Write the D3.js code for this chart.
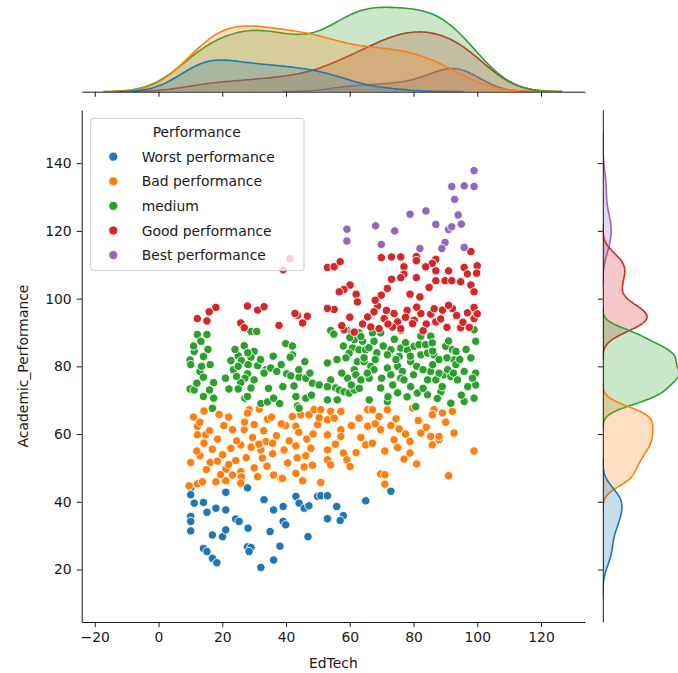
<!DOCTYPE html>
<html>
<head>
<meta charset="utf-8">
<script src="https://cdn.jsdelivr.net/npm/d3@7"></script>
<style>
  body { margin: 0; background: #fff; }
  text { font-family: "DejaVu Sans", sans-serif; font-size: 13.9px; fill: #1a1a1a; }
  .axis path, .axis line { stroke: #1a1a1a; stroke-width: 1; }
</style>
</head>
<body>
<div id="chart"></div>
<script>
// categories + colours (seaborn default palette)
const categories = ["Worst performance", "Bad performance", "medium", "Good performance", "Best performance"];
const colors = ["#1f77b4", "#ff7f0e", "#2ca02c", "#d62728", "#9467bd"];

// [EdTech, Academic_Performance]
// (dense clusters hold overlapping dots; the marginal kdes show how many)
const worstPts = [[10.1,44.1],[10.1,42.1],[11.2,39.6],[14.1,39.8],[15.2,36.9],[18.0,38.1],[21.1,42.8],[21.1,37.6],[27.9,44.1],[33.1,40.6],
  [36.1,37.6],[39.1,38.6],[43.1,41.6],[44.1,39.6],[45.7,38.1],[47.2,38.8],[49.9,41.6],[10.1,35.7],[10.1,34.2],[10.1,31.4],
  [16.9,30.2],[20.1,29.7],[21.1,31.7],[24.2,34.9],[25.3,34.2],[28.1,32.2],[35.0,31.2],[39.1,34.2],[39.9,33.2],[46.9,29.7],
  [14.1,26.2],[15.2,25.3],[16.9,23.3],[18.3,22.0],[27.9,26.7],[29.0,26.5],[28.4,25.3],[38.1,26.9],[36.1,22.8],[32.1,20.6],
  [50.9,41.8],[53.0,41.8],[55.9,38.6],[58.0,35.9],[57.0,34.5],[53.0,35.0],[65.0,40.3],[72.9,43.1]];

const badPts = [[14.3,66.8],[19.0,65.8],[12.2,62.3],[14.8,59.8],[12.2,59.8],[23.2,61.3],[26.9,61.3],[30.0,62.8],[28.4,67.2],[31.6,67.4],
  [27.9,66.2],[34.2,64.4],[39.9,62.5],[42.0,65.2],[43.1,62.3],[44.6,65.7],[47.2,65.7],[48.8,67.2],[49.9,62.8],[50.4,64.8],
  [14.3,57.3],[16.9,55.5],[22.7,55.8],[25.8,56.8],[29.0,56.1],[32.1,55.3],[33.7,57.8],[35.8,57.3],[35.8,54.2],[39.4,55.3],
  [43.1,56.5],[47.8,55.8],[10.1,51.6],[13.0,53.6],[16.2,51.6],[20.1,53.9],[24.2,52.2],[21.1,49.6],[23.2,47.9],[25.8,48.9],
  [26.0,47.4],[31.1,47.4],[36.1,47.9],[38.4,46.9],[43.1,48.4],[45.7,50.3],[48.3,50.8],[46.2,53.6],[45.2,46.2],[9.6,44.7],
  [12.2,45.3],[13.8,45.9],[18.0,45.9],[21.1,46.2],[25.8,45.5],[32.6,52.9],[38.9,46.9],
  [53.0,55.3],[53.0,52.4],[54.0,50.9],[58.0,54.4],[59.1,52.4],[60.1,50.4],[65.0,56.8],[67.1,57.3],[71.0,55.0],[73.9,58.3],
  [78.9,57.8],[78.9,54.4],[77.0,52.6],[81.0,51.2],[85.9,56.8],[88.0,58.3],[99.0,55.0],[69.7,48.2],[71.0,48.0],[71.0,45.2],
  [91.0,47.7],[50.9,45.7],
  [50.9,67.2],[54.0,66.7],[57.2,66.7],[53.0,64.2],[55.1,64.7],[57.2,61.3],[62.9,64.7],[65.6,67.2],[67.1,67.2],[69.2,65.2],
  [71.8,67.2],[79.7,67.7],[86.4,67.2],[85.9,65.7],[89.1,66.2],[92.2,66.7],[90.1,63.5],[69.7,61.3],[72.9,62.5],[75.5,61.5],
  [65.6,62.3],[82.3,60.3],[85.4,59.3],[88.0,59.3],[92.7,60.3],[57.2,59.3],[53.0,59.8],
  [11.0,65.0],[13.0,63.5],[16.0,61.0],[18.5,58.5],[20.5,62.5],[22.0,65.0],[24.5,58.0],[27.0,63.5],[29.5,59.0],[31.5,57.0],
  [33.0,61.0],[35.5,65.0],[37.0,59.5],[38.5,63.0],[41.0,58.0],[44.0,60.5],[46.5,58.5],[48.5,60.0],[12.0,55.0],[15.0,49.5],
  [18.5,52.0],[22.0,51.0],[27.5,53.0],[30.0,50.0],[34.0,50.5],[40.5,51.5],[43.5,53.0],[19.5,48.0],
  [55.5,57.0],[60.5,62.5],[63.5,59.0],[68.0,63.0],[74.5,64.5],[77.5,60.0],[81.5,64.0],[84.0,62.0],[62.0,54.5],[75.0,56.0]];

const mediumPts = [[12.2,89.4],[15.2,89.4],[13.3,87.4],[11.2,84.4],[14.1,82.9],[9.9,81.9],[10.1,80.5],[16.2,80.5],[13.0,78.5],[14.1,76.8],
  [17.3,75.2],[9.9,73.3],[11.2,73.0],[14.1,71.1],[17.3,70.6],[16.9,67.6],
  [26.9,86.1],[30.0,84.4],[25.0,83.1],[22.7,81.7],[26.0,81.7],[29.0,82.7],[23.5,79.0],[25.0,80.0],[28.1,80.5],[31.1,80.2],
  [27.9,77.8],[27.1,76.5],[25.8,75.2],[25.0,73.3],[22.1,73.3],[29.0,73.6],[27.1,70.6],[27.9,71.1],[29.0,90.3],[30.8,90.3],
  [33.7,79.0],[33.1,78.0],[35.2,79.5],[37.1,78.5],[32.1,69.0],[34.2,69.5],[36.1,70.6],[39.9,86.7],[42.0,83.4],[41.3,82.7],
  [45.9,81.4],[40.2,77.8],[41.5,77.2],[44.1,76.8],[46.2,76.5],[48.3,75.0],[50.4,74.5],[42.5,74.2],[43.1,71.1],[46.2,70.6],
  [43.6,68.3],[44.1,67.6],
  [54.0,90.6],[59.3,90.6],[60.5,89.9],[62.9,89.9],[67.1,89.9],[69.7,89.9],[76.0,90.6],[82.3,88.9],[85.4,88.9],[99.0,90.8],
  [99.5,87.4],[61.4,87.9],[64.0,87.4],[67.6,87.4],[60.9,85.4],[62.9,84.9],[65.0,84.9],[59.8,83.9],[58.8,82.5],[72.9,84.9],
  [76.0,85.4],[78.1,84.9],[80.2,85.9],[81.7,86.4],[83.8,86.4],[85.9,86.9],[82.3,83.4],[84.4,83.9],[86.4,83.4],[90.1,85.9],
  [92.2,84.9],[93.3,84.4],[71.8,83.4],[75.5,82.9],[79.1,81.4],[53.0,81.0],[62.4,81.4],[64.5,81.4],[66.6,80.0],[67.6,79.0],
  [61.4,79.0],[61.9,77.5],[59.3,76.5],[63.5,76.0],[66.1,76.5],[71.8,79.5],[72.9,77.5],[75.0,80.0],[76.5,78.5],[76.0,76.5],
  [77.0,76.0],[85.4,78.5],[84.4,76.0],[87.0,76.0],[89.6,77.5],[90.7,79.0],[91.7,77.0],[93.8,76.0],[95.9,78.5],[98.0,82.5],
  [99.5,78.0],[99.5,74.5],[92.7,81.9],[93.3,80.5],[54.0,76.0],[53.0,74.0],[55.6,73.6],[56.7,73.0],[58.2,72.5],[59.8,72.1],
  [61.4,73.0],[53.0,70.1],[56.1,70.1],[66.1,70.1],[69.7,73.6],[75.0,72.2],[79.1,74.0],[81.2,72.1],[84.4,71.6],[88.6,72.5],
  [71.8,69.6],[80.7,68.1],[91.7,69.1],[95.9,69.6],[99.0,70.6],
  [55.0,89.5],[60.0,88.5],[63.5,88.8],[66.0,85.5],[68.5,84.0],[70.5,86.0],[74.0,88.0],[77.5,87.0],[79.0,83.0],[81.0,80.0],
  [83.0,79.0],[86.0,80.5],[88.0,82.0],[89.0,74.0],[90.5,82.5],[92.5,78.0],[94.5,82.0],[96.5,85.0],[97.0,74.0],[98.5,76.5],
  [95.0,71.5],[87.5,70.5],[83.0,73.5],[78.0,71.0],[73.5,74.5],[70.0,76.5],[68.0,82.0],[65.5,78.0],[63.0,73.5],[60.5,74.5],
  [57.5,78.0],[56.0,82.0],[58.0,86.0],[64.5,82.5],[74.5,82.0],[86.0,84.5],[91.0,87.5],[80.0,77.5],[72.0,71.0],[88.0,78.0],
  [11.0,86.0],[13.5,80.0],[15.5,85.0],[12.0,75.0],[16.0,73.0],[24.0,85.0],[28.0,84.0],[24.5,77.0],[30.0,76.0],[32.0,82.0],
  [36.0,83.0],[38.5,80.5],[39.0,74.0],[44.0,79.0],[47.5,78.0],[42.0,86.0],[34.5,73.5],[21.0,76.5],[48.0,71.5],[38.0,69.0]];

const goodPts = [[53.0,109.2],[55.1,109.4],[57.0,110.9],[69.9,112.1],[73.1,112.3],[76.0,112.3],[80.9,112.4],[80.9,111.2],[87.0,111.6],[85.9,110.4],
  [77.0,109.4],[83.8,109.4],[87.0,108.2],[91.0,108.2],[95.9,109.2],[98.0,113.9],[100.0,109.7],[99.8,107.5],[96.9,107.3],[77.0,107.2],
  [76.0,106.2],[73.1,105.7],[80.9,106.2],[87.0,105.3],[89.9,105.3],[92.0,105.3],[94.8,105.0],[98.0,104.0],[84.9,103.3],[60.1,104.0],
  [58.2,102.7],[56.7,102.0],[62.0,101.3],[71.8,103.0],[69.9,101.0],[78.9,101.3],[82.0,100.5],[99.0,102.0],[41.3,111.8],[39.1,108.5],
  [55.1,96.8],[68.7,97.8],[67.6,96.1],[65.6,94.6],[70.8,94.1],[73.9,95.6],[75.0,93.1],[73.4,91.6],[66.6,91.6],[69.2,91.1],
  [76.0,91.1],[80.2,93.6],[82.3,95.6],[85.4,95.4],[87.0,93.1],[89.1,96.6],[92.2,97.1],[96.9,95.8],[99.0,97.4],[99.0,94.1],
  [94.8,91.4],[58.2,90.8],[61.4,90.1],[79.7,92.6],[62.4,99.0],[53.0,97.1],
  [18.0,97.4],[15.9,96.1],[12.2,94.1],[15.2,93.4],[27.9,97.8],[31.1,96.6],[33.1,97.6],[25.8,92.8],[26.9,91.4],[37.8,92.1],
  [43.6,95.1],[46.7,94.8],[45.2,92.8],[42.8,95.6],
  [78.0,96.5],[81.0,97.5],[84.0,92.5],[86.5,97.0],[88.5,94.0],[90.5,91.5],[93.5,95.0],[95.5,93.0],[97.5,91.5],[100.0,95.5],
  [91.0,98.0],[83.0,90.5],[77.5,94.5],[72.0,92.5],[71.5,96.5],[64.0,92.5],[60.0,94.5],[57.5,92.0],[68.0,99.5]];

const bestPts = [[99.0,137.8],[92.0,133.1],[95.9,133.3],[99.0,133.1],[92.9,129.3],[78.9,124.9],[83.9,125.9],[94.0,124.7],[87.0,121.9],[68.1,121.5],
  [74.1,120.0],[59.1,120.5],[91.0,120.4],[92.0,121.2],[95.0,122.0],[59.1,117.0],[69.9,116.0],[89.9,116.6],[82.0,114.8],[88.9,114.8],
  [95.9,115.1]];

const xTicks = [-20, 0, 20, 40, 60, 80, 100, 120];
const yTicks = [20, 40, 60, 80, 100, 120, 140];

const groups = [worstPts, badPts, mediumPts, goodPts, bestPts];

const width = 678, height = 673;
const box = { left: 81.7, right: 585, top: 110, bottom: 622 };
const topBase = 91.7, rightBase = 602.8;

const svg = d3.select("#chart").append("svg")
  .attr("width", width)
  .attr("height", height);

const x = d3.scaleLinear().domain([-24.1, 133.8]).range([box.left, box.right]);
const y = d3.scaleLinear().domain([4.5, 155.7]).range([box.bottom, box.top]);

// --- kde like seaborn (scott bandwidth, cut=3, common_norm) ---
const total = d3.sum(groups, g => g.length);
const kde = (vals) => {
  const n = vals.length;
  const bw = d3.deviation(vals) * Math.pow(n, -0.2);
  const lo = d3.min(vals) - 3 * bw, hi = d3.max(vals) + 3 * bw;
  const grid = d3.range(200).map(i => lo + (hi - lo) * i / 199);
  const c = 1 / (n * bw * Math.sqrt(2 * Math.PI));
  return grid.map(g => [g, (n / total) * c * d3.sum(vals, v => Math.exp(-0.5 * ((g - v) / bw) ** 2))]);
};

const kdeX = groups.map(g => kde(g.map(d => d[0])));
const kdeY = groups.map(g => kde(g.map(d => d[1])));

const topD = d3.scaleLinear()
  .domain([0, d3.max(kdeX, k => d3.max(k, d => d[1]))])
  .range([topBase, 7.3]);
const rightD = d3.scaleLinear()
  .domain([0, d3.max(kdeY, k => d3.max(k, d => d[1]))])
  .range([rightBase, 679]);

const defs = svg.append("defs");
defs.append("clipPath").attr("id", "clipTop")
  .append("rect").attr("x", box.left).attr("y", -10).attr("width", box.right - box.left).attr("height", topBase + 10);
defs.append("clipPath").attr("id", "clipRight")
  .append("rect").attr("x", rightBase).attr("y", box.top).attr("width", 100).attr("height", box.bottom - box.top);

// seaborn draws hue levels in reverse order
const order = d3.range(groups.length).reverse();

// top marginal
const topG = svg.append("g").attr("clip-path", "url(#clipTop)");
order.forEach(i => {
  const area = d3.area().x(d => x(d[0])).y0(topBase).y1(d => topD(d[1]));
  const line = d3.line().x(d => x(d[0])).y(d => topD(d[1]));
  topG.append("path").attr("d", area(kdeX[i])).attr("fill", colors[i]).attr("fill-opacity", 0.25);
  topG.append("path").attr("d", line(kdeX[i])).attr("fill", "none")
    .attr("stroke", colors[i]).attr("stroke-width", 1.6).attr("stroke-linejoin", "round");
});

// right marginal
const rightG = svg.append("g").attr("clip-path", "url(#clipRight)");
order.forEach(i => {
  const area = d3.area().y(d => y(d[0])).x0(rightBase).x1(d => rightD(d[1]));
  const line = d3.line().y(d => y(d[0])).x(d => rightD(d[1]));
  rightG.append("path").attr("d", area(kdeY[i])).attr("fill", colors[i]).attr("fill-opacity", 0.25);
  rightG.append("path").attr("d", line(kdeY[i])).attr("fill", "none")
    .attr("stroke", colors[i]).attr("stroke-width", 1.6).attr("stroke-linejoin", "round");
});

// --- axes ---
svg.append("g").attr("class", "axis")
  .attr("transform", `translate(0,${box.bottom})`)
  .call(d3.axisBottom(x).tickValues(xTicks).tickSize(5).tickSizeOuter(0).tickPadding(5).tickFormat(d => d < 0 ? "\u2212" + Math.abs(d) : d));

svg.append("g").attr("class", "axis")
  .attr("transform", `translate(${box.left},0)`)
  .call(d3.axisLeft(y).tickValues(yTicks).tickSize(5).tickSizeOuter(0).tickPadding(5));

svg.append("g").attr("class", "axis")
  .attr("transform", `translate(0,${topBase})`)
  .call(d3.axisBottom(x).tickValues(xTicks).tickSize(5).tickSizeOuter(0).tickFormat(""));

svg.append("g").attr("class", "axis")
  .attr("transform", `translate(${rightBase},0)`)
  .call(d3.axisLeft(y).tickValues(yTicks).tickSize(5).tickSizeOuter(0).tickFormat(""));

svg.selectAll(".axis").attr("fill", null).attr("font-size", null).attr("font-family", null);

// --- scatter ---
groups.forEach((g, i) => {
  svg.append("g").selectAll("circle")
    .data(g)
    .enter()
    .append("circle")
    .attr("cx", d => x(d[0]))
    .attr("cy", d => y(d[1]))
    .attr("r", 4.2)
    .attr("fill", colors[i])
    .attr("stroke", "#fff")
    .attr("stroke-width", 0.9);
});

// labels
svg.append("text")
  .attr("x", (box.left + box.right) / 2)
  .attr("y", 663)
  .attr("text-anchor", "middle")
  .attr("dominant-baseline", "central")
  .text("EdTech");

svg.append("text")
  .attr("transform", `translate(23,${(box.top + box.bottom) / 2}) rotate(-90)`)
  .attr("text-anchor", "middle")
  .attr("dominant-baseline", "central")
  .text("Academic_Performance");

// legend
const leg = svg.append("g");
leg.append("rect")
  .attr("x", 90.7).attr("y", 118.3)
  .attr("width", 213.3).attr("height", 152.4)
  .attr("rx", 3)
  .attr("fill", "#fff").attr("fill-opacity", 0.8)
  .attr("stroke", "#cccccc").attr("stroke-width", 1);
leg.append("text")
  .attr("x", 196.7).attr("y", 131.7)
  .attr("text-anchor", "middle")
  .attr("dominant-baseline", "central")
  .text("Performance");
categories.forEach((c, i) => {
  const yy = 156.7 + i * 24.6;
  leg.append("circle").attr("cx", 113.3).attr("cy", yy).attr("r", 4.6)
    .attr("fill", colors[i]).attr("stroke", "#fff").attr("stroke-width", 0.9);
  leg.append("text").attr("x", 141.7).attr("y", yy)
    .attr("dominant-baseline", "central")
    .text(c);
});
</script>
</body>
</html>
